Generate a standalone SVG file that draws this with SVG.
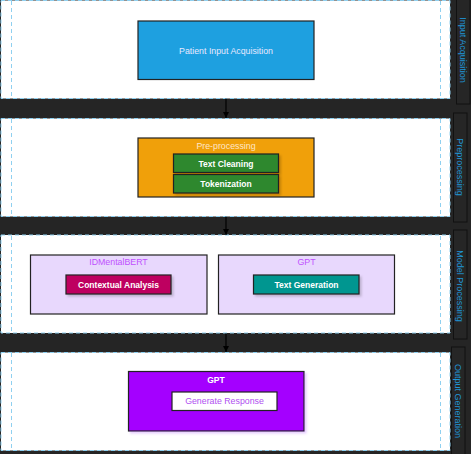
<svg xmlns="http://www.w3.org/2000/svg" width="471" height="454" viewBox="0 0 471 454">
<style>
.lane{fill:#ffffff;stroke:#8fd0f0;stroke-width:1;stroke-dasharray:4 3}
.guide{stroke:#8fd0f0;stroke-width:1;stroke-dasharray:4 3;fill:none}
.hdr{fill:#262626;stroke:#111111;stroke-width:1}
.hdrtxt{font-family:"Liberation Sans",Arial,sans-serif;font-size:9px;fill:#1f95d6;text-anchor:middle;dominant-baseline:central}
.box{stroke:#222222;stroke-width:1.2}
.t{font-family:"Liberation Sans",Arial,sans-serif;font-size:8.8px;text-anchor:middle;dominant-baseline:central}
.b{font-weight:bold;fill:#ffffff;font-size:8.5px}
.conn{stroke:#000000;stroke-width:1.2;fill:none;marker-end:url(#ah)}
</style>
<defs>
<marker id="ah" viewBox="0 0 10 10" refX="10" refY="5" markerWidth="6" markerHeight="6" orient="auto" markerUnits="userSpaceOnUse">
<path d="M0,0 L10,5 L0,10 z" fill="#000000"/>
</marker>
<filter id="sh" x="-10%" y="-20%" width="130%" height="150%">
<feDropShadow dx="2" dy="2" stdDeviation="1" flood-color="#000000" flood-opacity="0.18"/>
</filter>
<filter id="shp" x="-10%" y="-20%" width="130%" height="150%">
<feDropShadow dx="2" dy="2" stdDeviation="1.2" flood-color="#b060ff" flood-opacity="0.3"/>
</filter>
</defs>
<rect x="0" y="0" width="471" height="454" fill="#252525"/>

<g id="lane-input">
<rect class="lane" x="1" y="0.5" width="449" height="98"/>
<line class="guide" x1="11.5" y1="1" x2="11.5" y2="98"/>
<line class="guide" x1="440.5" y1="1" x2="440.5" y2="98"/>
<rect class="hdr" x="456.5" y="-1" width="13.5" height="105"/>
<text class="hdrtxt" transform="translate(463,50) rotate(90)">Input Acquisition</text>
</g>
<g id="lane-pre">
<rect class="lane" x="1" y="118.5" width="449" height="98"/>
<line class="guide" x1="11.5" y1="119" x2="11.5" y2="216"/>
<line class="guide" x1="440.5" y1="119" x2="440.5" y2="216"/>
<rect class="hdr" x="453.5" y="113" width="13.5" height="109"/>
<text class="hdrtxt" transform="translate(460,167) rotate(90)">Preprocessing</text>
</g>
<g id="lane-model">
<rect class="lane" x="1" y="235" width="449" height="98"/>
<line class="guide" x1="11.5" y1="236" x2="11.5" y2="333"/>
<line class="guide" x1="440.5" y1="236" x2="440.5" y2="333"/>
<rect class="hdr" x="453.5" y="230" width="13.5" height="109"/>
<text class="hdrtxt" transform="translate(460,286) rotate(90)">Model Processing</text>
</g>
<g id="lane-output">
<rect class="lane" x="1" y="352.5" width="449" height="98"/>
<line class="guide" x1="11.5" y1="353" x2="11.5" y2="450"/>
<line class="guide" x1="440.5" y1="353" x2="440.5" y2="450"/>
<rect class="hdr" x="451.5" y="347" width="13.5" height="108"/>
<text class="hdrtxt" transform="translate(458,401) rotate(90)">Output Generation</text>
</g>

<g id="connectors">
<line class="conn" x1="226" y1="98.5" x2="226" y2="118"/>
<line class="conn" x1="226" y1="216.5" x2="226" y2="235"/>
<line class="conn" x1="226" y1="333.5" x2="226" y2="352"/>
</g>

<g id="patient-input">
<rect class="box" x="138" y="21" width="176" height="58.5" fill="#1ea0e0"/>
<text class="t" x="226" y="50.5" fill="#e8e8ff">Patient Input Acquisition</text>
</g>

<g id="preprocessing">
<rect class="box" x="138" y="138" width="176" height="59" fill="#f0a00a"/>
<text class="t" x="226" y="145.5" fill="#ffe6c8">Pre-processing</text>
</g>
<g id="text-cleaning">
<rect class="box" x="173.5" y="154" width="105" height="18.5" fill="#2e882e" filter="url(#sh)"/>
<text class="t b" x="226" y="163.5">Text Cleaning</text>
</g>
<g id="tokenization">
<rect class="box" x="173.5" y="174.5" width="105" height="18.5" fill="#2e882e" filter="url(#sh)"/>
<text class="t b" x="226" y="183.5">Tokenization</text>
</g>

<g id="idmentalbert">
<rect class="box" x="30.5" y="255" width="176.5" height="59" fill="#e8d8fd"/>
<text class="t" x="118.5" y="262" fill="#c050ff">IDMentalBERT</text>
</g>
<g id="contextual-analysis">
<rect class="box" x="66" y="275" width="105" height="19" fill="#be0060" filter="url(#sh)"/>
<text class="t b" x="118.5" y="284.5">Contextual Analysis</text>
</g>
<g id="gpt-model">
<rect class="box" x="218.5" y="255" width="176" height="59" fill="#e8d8fd"/>
<text class="t" x="306.5" y="262" fill="#c050ff">GPT</text>
</g>
<g id="text-generation">
<rect class="box" x="253.5" y="275" width="105.5" height="19" fill="#009690" filter="url(#sh)"/>
<text class="t b" x="306.5" y="284.5">Text Generation</text>
</g>

<g id="gpt-output">
<rect class="box" x="128.5" y="371.5" width="175.5" height="59.5" fill="#a400ff" filter="url(#shp)"/>
<text class="t b" x="216" y="379.5">GPT</text>
</g>
<g id="generate-response">
<rect class="box" x="172" y="392" width="105" height="18.5" fill="#ffffff"/>
<text class="t" x="224.5" y="401" fill="#b050f0">Generate Response</text>
</g>
</svg>
